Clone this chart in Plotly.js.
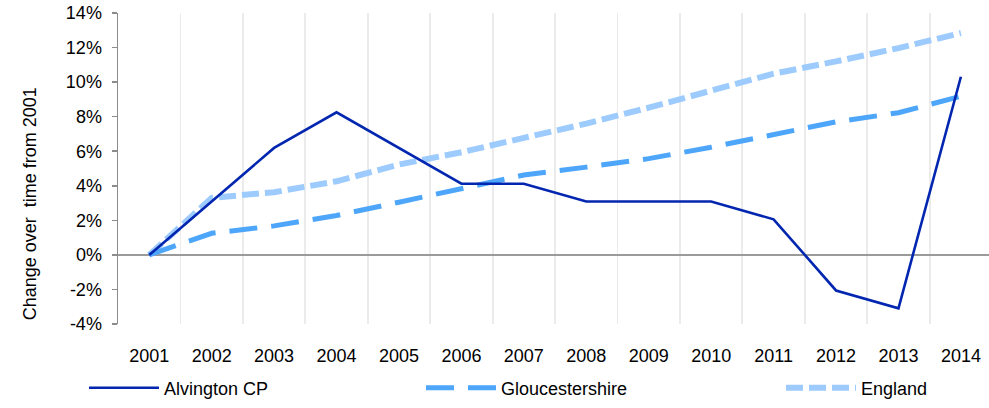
<!DOCTYPE html>
<html>
<head>
<meta charset="utf-8">
<script src="https://cdn.plot.ly/plotly-3.0.1.min.js"></script>
<style>html,body{margin:0;padding:0;background:#fff}#chart{width:989px;height:408px}</style>
</head>
<body>
<div id="chart"></div>
<script>
const years = ["2001","2002","2003","2004","2005","2006","2007","2008","2009","2010","2011","2012","2013","2014"];
const alvington = [0, 3.09, 6.19, 8.25, 6.19, 4.12, 4.12, 3.09, 3.09, 3.09, 2.06, -2.06, -3.09, 10.31];
const gloucestershire = [0, 1.25, 1.68, 2.28, 3.05, 3.83, 4.62, 5.08, 5.57, 6.23, 6.96, 7.7, 8.23, 9.18];
const england = [0, 3.3, 3.63, 4.26, 5.23, 5.94, 6.77, 7.6, 8.52, 9.46, 10.49, 11.2, 11.97, 12.84];
const yTicks = [-4, -2, 0, 2, 4, 6, 8, 10, 12, 14];
const yTickText = yTicks.map(v => v + "%");
const yTitle = "Change over  time from 2001";

const traces = [
  {x: years, y: england, name: "England", type: "scatter", mode: "lines", legend: "legend3",
   line: {color: "#9dcbfd", width: 6, dash: "17px,6px"}},
  {x: years, y: gloucestershire, name: "Gloucestershire", type: "scatter", mode: "lines", legend: "legend2",
   line: {color: "#4ea6fb", width: 5, dash: "28px,14px"}},
  {x: years, y: alvington, name: "Alvington CP", type: "scatter", mode: "lines", legend: "legend",
   line: {color: "#0326b0", width: 2.6}}
];

function leg(px) {
  return {orientation: "h", xref: "container", yref: "container", x: px / 989, y: 1 - 388 / 408,
          xanchor: "left", yanchor: "middle", itemwidth: 70, font: {size: 18},
          bgcolor: "rgba(0,0,0,0)"};
}

const layout = {
  width: 989, height: 408,
  margin: {l: 118, r: 0, t: 13, b: 84},
  paper_bgcolor: "#fff", plot_bgcolor: "#fff",
  font: {family: "Liberation Sans, Arial, sans-serif", size: 18, color: "#000"},
  showlegend: true,
  legend: leg(84),
  legend2: leg(421),
  legend3: leg(781),
  xaxis: {type: "category", range: [-0.5, 13.45], tickson: "boundaries",
          showgrid: true, gridcolor: "#ebebeb", gridwidth: 1.8,
          ticks: "", ticklabelstandoff: 19,
          showline: false, zeroline: false, fixedrange: true,
          tickfont: {size: 18}},
  yaxis: {range: [-4, 14], tickvals: yTicks, ticktext: yTickText,
          showgrid: false, zeroline: true, zerolinecolor: "#9a9a9a", zerolinewidth: 1.5,
          showline: true, linecolor: "#8c8c8c", linewidth: 1.5,
          ticks: "outside", ticklen: 5, tickcolor: "#8c8c8c", tickwidth: 1.5,
          ticklabelstandoff: 6,
          tickfont: {size: 18}},
  annotations: [{text: yTitle, textangle: -90, xref: "paper", yref: "paper",
                 x: 0, y: 0.385, xanchor: "center", yanchor: "middle", xshift: -88,
                 showarrow: false, font: {size: 18}}]
};

Plotly.newPlot("chart", traces, layout, {displayModeBar: false, staticPlot: true});
</script>
</body>
</html>
